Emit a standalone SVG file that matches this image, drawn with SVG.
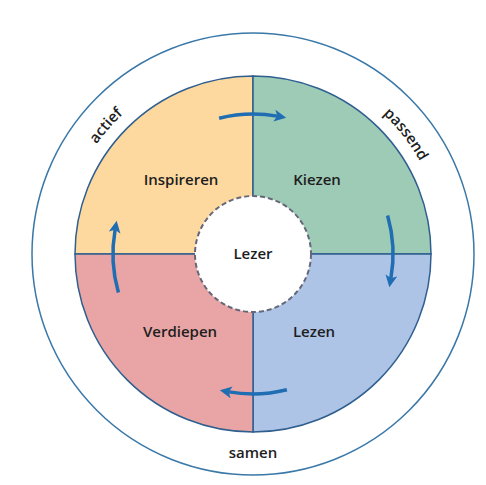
<svg xmlns="http://www.w3.org/2000/svg" width="486" height="485" viewBox="0 0 486 485">
<style>
.q{stroke:#2f5f8f;stroke-width:1.5}
.lbl{font-family:"Open Sans","Liberation Sans",sans-serif;font-weight:600;font-size:15px;fill:#1e1e1e;text-anchor:middle}
.ring{font-family:"Open Sans","Liberation Sans",sans-serif;font-weight:600;font-size:15px;fill:#1e1e1e}
.arr{fill:none;stroke:#1f6db2;stroke-width:3.5;marker-end:url(#ah)}
</style>
<defs>
<marker id="ah" markerUnits="userSpaceOnUse" markerWidth="13" markerHeight="13" refX="3" refY="6" orient="auto" viewBox="0 0 13 13">
<path d="M0,0 L12,6 L0,12 L3,6 Z" fill="#1f6db2"/>
</marker>
<path id="ringpath" d="M62,254 A191,191 0 1 1 444,254 A191,191 0 1 1 62,254"/>
</defs>
<rect width="486" height="485" fill="#ffffff"/>
<g id="outer">
<circle cx="253" cy="254" r="221" fill="#ffffff" stroke="#3a78a8" stroke-width="1.5"/>
<text class="ring"><textPath href="#ringpath" startOffset="137" text-anchor="middle">actief</textPath></text>
<text class="ring"><textPath href="#ringpath" startOffset="473" text-anchor="middle">passend</textPath></text>
<text class="lbl" x="253" y="458">samen</text>
</g>
<g id="inspireren">
<path class="q" d="M253,254 L75,254 A178,178 0 0 1 253,76 Z" fill="#fdd9a0"/>
<text class="lbl" x="181" y="185">Inspireren</text>
</g>
<g id="kiezen">
<path class="q" d="M253,254 L253,76 A178,178 0 0 1 431,254 Z" fill="#9ecbb6"/>
<text class="lbl" x="317" y="185">Kiezen</text>
</g>
<g id="lezen">
<path class="q" d="M253,254 L431,254 A178,178 0 0 1 253,432 Z" fill="#aec4e7"/>
<text class="lbl" x="314" y="337">Lezen</text>
</g>
<g id="verdiepen">
<path class="q" d="M253,254 L253,432 A178,178 0 0 1 75,254 Z" fill="#e9a5a5"/>
<text class="lbl" x="180" y="337">Verdiepen</text>
</g>
<g id="lezer">
<circle cx="253" cy="254" r="58" fill="#ffffff" stroke="#66687a" stroke-width="2" stroke-dasharray="5 3"/>
<text class="lbl" x="253" y="259">Lezer</text>
</g>
<g id="connectors">
<path class="arr" d="M219.1,118.2 A140,140 0 0 1 277.3,116.1"/>
<path class="arr" d="M387.6,215.4 A140,140 0 0 1 390.9,278.3"/>
<path class="arr" d="M286.9,389.8 A140,140 0 0 1 228.7,391.9"/>
<path class="arr" d="M118.4,292.6 A140,140 0 0 1 115.1,229.7"/>
</g>
</svg>
